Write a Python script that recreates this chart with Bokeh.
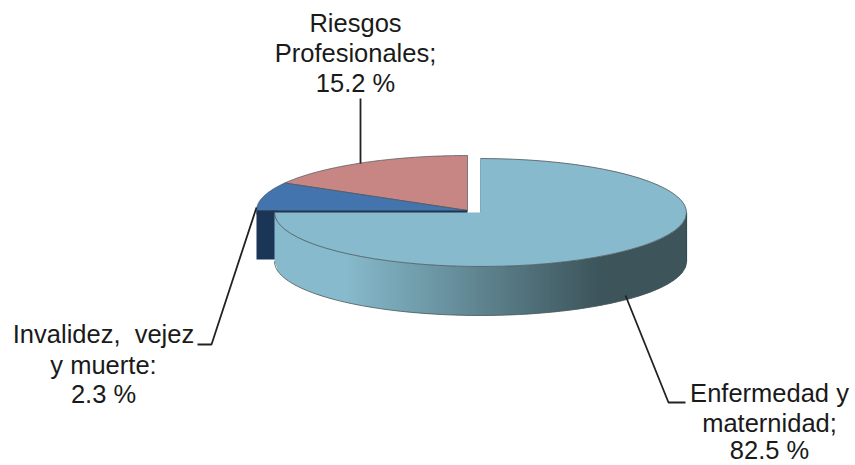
import numpy as np
from bokeh.plotting import figure
from bokeh.embed import file_html
from bokeh.resources import INLINE
from bokeh.core.properties import value

# Labelled shares
categories = ["Enfermedad y maternidad", "Invalidez, vejez y muerte", "Riesgos Profesionales"]
shares = [82.5, 2.3, 15.2]
# The reference's slices are not drawn in proportion to their labels, so the
# drawn spans (degrees on the projected ellipse) are read from the picture.
drawn_spans = [270, 30, 60]
label_lines = [["Enfermedad y", "maternidad;", "{} %"],
               ["Invalidez,\u00a0 vejez", "y muerte:", "{} %"],
               ["Riesgos", "Profesionales;", "{} %"]]
top_colors = ["#86bacc", "#4474ad", "#c78583"]

W, H = 855, 465
p = figure(width=W, height=H, x_range=(0, W), y_range=(H, 0),
           output_backend="svg", toolbar_location=None, min_border=0)
p.axis.visible = False
p.grid.visible = False
p.outline_line_color = None

RX, RY, DEPTH = 206, 54, 49
CX, CY = 480, 212
CX2, CY2, RX2, RY2 = 467, 210, 211, 55
EDGE = "#4a5558"


def lerp(a, b, t):
    return "#%02x%02x%02x" % tuple(int(round(a[i] + (b[i] - a[i]) * t)) for i in range(3))


def side_color(x):
    light, dark = (134, 186, 204), (60, 84, 90)
    t = np.clip((x - 345) / (600 - 345), 0, 1)
    return lerp(light, dark, float(t))


def arc(cx, cy, rx, ry, a0, a1):
    t = np.radians(np.linspace(a0, a1, 60))
    return cx + rx * np.cos(t), cy - ry * np.sin(t)


# dark side of the small blue slice
p.quad(left=[256], right=[277], top=[210], bottom=[259], fill_color="#1b3557", line_color=None)

# small slices, top faces: start at 12 o'clock going anticlockwise
start = 90.0
red_x, red_y = arc(CX2, CY2, RX2, RY2, start, start + drawn_spans[2])
p.patch(np.r_[CX2, red_x], np.r_[CY2, red_y], fill_color=top_colors[2], line_color=EDGE, line_width=0.7)
blue_x, blue_y = arc(CX2, CY2, RX2, RY2, start + drawn_spans[2], start + drawn_spans[2] + drawn_spans[1])
p.patch(np.r_[CX2, blue_x], np.r_[CY2, blue_y], fill_color=top_colors[1], line_color=EDGE, line_width=0.7)
p.quad(left=[256], right=[467], top=[210], bottom=[214], fill_color="#1b3557", line_color=None)

# main slice wall: vertical strips
edges = np.arange(CX - RX, CX + RX + 3, 3.0)
edges[-1] = CX + RX
xs, ys, cols = [], [], []
for a, b in zip(edges[:-1], edges[1:]):
    ua = np.sqrt(max(0.0, 1 - ((a - CX) / RX) ** 2))
    ub = np.sqrt(max(0.0, 1 - ((b - CX) / RX) ** 2))
    xs.append([a, b + 0.6, b + 0.6, a])
    ys.append([CY + RY * ua, CY + RY * ub, CY + RY * ub + DEPTH, CY + RY * ua + DEPTH])
    cols.append(side_color((a + b) / 2))
p.patches(xs, ys, fill_color=cols, line_color=None)
bx, by = arc(CX, CY, RX, RY, 180, 360)
p.line(bx, by + DEPTH, line_color=EDGE, line_width=0.8)
p.line([CX + RX, CX + RX], [CY, CY + DEPTH], line_color="#33474c", line_width=0.8)

# main slice top face
mx, my = arc(CX, CY, RX, RY, 90 - drawn_spans[0], 90)
p.patch(np.r_[CX, mx], np.r_[CY, my], fill_color=top_colors[0], line_color=None)
p.line(mx, my, line_color=EDGE, line_width=0.8)
p.line([CX, CX], [CY - RY, CY], line_color="#6f9cab", line_width=0.8)

# leader lines
p.line([360, 360], [163, 98], line_color="#222222", line_width=1.8)
p.line([256, 211, 197], [207, 344, 344], line_color="#222222", line_width=1.8)
p.line([625, 668, 685], [295, 402, 402], line_color="#222222", line_width=1.8)

# labels
anchors = [(769, [392, 422, 449]), (103, [333, 364, 393]), (355, [22, 52, 82])]
for lines, share, (x, ypos) in zip(label_lines, shares, anchors):
    texts = [t.format(share) for t in lines]
    p.text([x] * 3, ypos, text=texts, text_align="center", text_baseline="middle",
           text_font=value("Liberation Sans"), text_font_size="25.5px", text_color="#1a1a1a")

open("out.html", "w").write(file_html(p, INLINE))
